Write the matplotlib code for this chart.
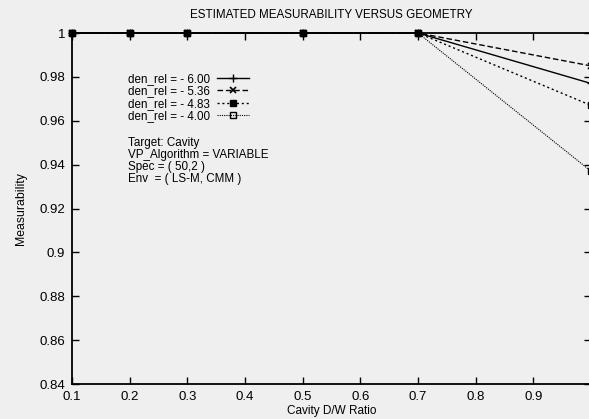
import numpy as np
import matplotlib.pyplot as plt

plt.rcParams['font.family'] = ['Liberation Sans', 'DejaVu Sans']

# data
ratio = [0.1, 0.2, 0.3, 0.5, 0.7, 1.0]
meas_600 = [1.0, 1.0, 1.0, 1.0, 1.0, 0.977]
meas_536 = [1.0, 1.0, 1.0, 1.0, 1.0, 0.985]
meas_483 = [1.0, 1.0, 1.0, 1.0, 1.0, 0.967]
meas_400 = [1.0, 1.0, 1.0, 1.0, 1.0, 0.937]
labels = ['den_rel = - 6.00', 'den_rel = - 5.36',
          'den_rel = - 4.83', 'den_rel = - 4.00']
xticks = [0.1, 0.2, 0.3, 0.4, 0.5, 0.6, 0.7, 0.8, 0.9]
yticks = [0.84, 0.86, 0.88, 0.9, 0.92, 0.94, 0.96, 0.98, 1.0]
ytick_labels = ['0.84', '0.86', '0.88', '0.9', '0.92', '0.94', '0.96', '0.98', '1']

bg = '#efefef'
fig = plt.figure(figsize=(5.89, 4.19), dpi=100, facecolor=bg)
ax = fig.add_axes([72 / 589, 1 - 384 / 419, 519 / 589, 351 / 419])
ax.set_facecolor(bg)

ax.plot(ratio, meas_600, color='black', lw=1.0, ls='-', clip_on=False,
        marker='+', ms=6, mew=1.0, label=labels[0])
ax.plot(ratio, meas_536, color='black', lw=1.0, ls=(0, (4, 2)), clip_on=False,
        marker='x', ms=5, mew=1.2, label=labels[1])
ax.plot(ratio, meas_483, color='black', lw=1.0, ls=(0, (1.5, 2)), clip_on=False,
        marker='s', ms=5, label=labels[2])
ax.plot(ratio, meas_400, color='black', lw=0.8, ls=(0, (1, 1)), clip_on=False,
        marker='s', ms=5, mfc='none', mew=1.0, label=labels[3])

ax.set_xlim(0.1, 1.0)
ax.set_ylim(0.84, 1.0)
ax.set_xticks(xticks)
ax.set_xticklabels([f'{v:g}' for v in xticks])
ax.set_yticks(yticks)
ax.set_yticklabels(ytick_labels)
ax.tick_params(direction='in', length=5, width=1, top=True, right=True,
               labelsize=9.5, pad=5)

for s in ax.spines.values():
    s.set_linewidth(1.3)

ax.set_title('ESTIMATED MEASURABILITY VERSUS GEOMETRY', fontsize=8.4, pad=11)
ax.set_xlabel('Cavity D/W Ratio', fontsize=8.5, labelpad=1.5)
ax.set_ylabel('Measurability', fontsize=8.8, labelpad=9)

leg = ax.legend(loc='upper left', bbox_to_anchor=(0.098, 0.9), frameon=False,
                markerfirst=False, fontsize=8.4, handlelength=2.8,
                labelspacing=0.05, handletextpad=0.6, borderaxespad=0)

info = 'Target: Cavity\nVP_Algorithm = VARIABLE\nSpec = ( 50,2 )\nEnv  = ( LS-M, CMM )'
ax.text(0.108, 0.705, info, transform=ax.transAxes, fontsize=8.4,
        va='top', ha='left', linespacing=1.0)

fig.savefig('out.png', dpi=100, facecolor=bg)
